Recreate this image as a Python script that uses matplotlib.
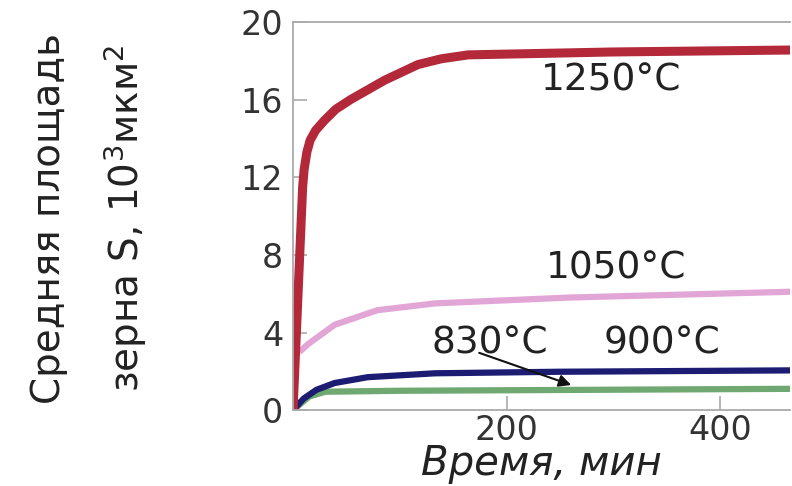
import matplotlib.pyplot as plt

# grain growth curves, time in minutes, area in 10^3 um^2
t_1250 = [0, 9, 10.4, 13, 16, 21, 29, 40, 54, 86, 117, 139, 164, 300, 466]
s_1250 = [0, 11.5, 12.4, 13.3, 13.9, 14.4, 14.9, 15.5, 16.0, 17.0, 17.8, 18.1, 18.3, 18.45, 18.55]
t_1050 = [6, 14, 39, 79, 133, 258, 466]
s_1050 = [3.0, 3.4, 4.4, 5.15, 5.5, 5.8, 6.1]
t_900 = [0, 10, 22, 39, 70, 133, 250, 466]
s_900 = [0, 0.6, 1.05, 1.4, 1.7, 1.9, 1.98, 2.05]
t_830 = [0, 15, 30, 100, 466]
s_830 = [0, 0.7, 0.95, 1.0, 1.1]

y_ticks = [0, 4, 8, 12, 16, 20]
x_ticks = [200, 400]

plt.rcParams['font.family'] = ['DejaVu Sans']

fig = plt.figure(figsize=(7.92, 4.86), dpi=100)
ax = fig.add_axes([0.37, 0.156, 0.628, 0.799])

ax.plot(t_830, s_830, color='#6fa870', linewidth=4.5, solid_capstyle='butt')
ax.plot(t_900, s_900, color='#1c1c72', linewidth=4.5, solid_capstyle='butt')
ax.plot(t_1050, s_1050, color='#e2a6d6', linewidth=4.5, solid_capstyle='butt')
ax.plot(t_1250, s_1250, color='#b3293a', linewidth=6.5, solid_capstyle='butt',
        solid_joinstyle='round')

lab = dict(fontsize=27, ha='center', va='center', color='#222222')
ax.text(298, 17.0, '1250°C', **lab)
ax.text(303, 7.3, '1050°C', **lab)
ax.text(184, 3.45, '830°C', **lab)
ax.text(346, 3.45, '900°C', **lab)
ax.annotate('', xy=(263, 1.25), xytext=(172, 3.0),
            arrowprops=dict(arrowstyle='-|>', color='#111111', lw=1.5,
                            mutation_scale=18))

ax.set_xlim(0, 466)
ax.set_ylim(0, 20)
ax.set_xticks(x_ticks)
ax.set_yticks(y_ticks)
ax.tick_params(direction='in', length=10, width=1.2, color='#aaaaaa',
               labelsize=24, labelcolor='#333333', pad=7)
ax.tick_params(axis='x', pad=3)
for side in ['left', 'top', 'bottom']:
    ax.spines[side].set_color('#aaaaaa')
    ax.spines[side].set_linewidth(1.3)
ax.spines['right'].set_visible(False)

ax.set_xlabel('Время, мин', fontsize=29, style='italic', color='#222222', labelpad=-2)
fig.text(0.062, 0.55, 'Средняя площадь', rotation=90, fontsize=28,
         ha='center', va='center', color='#222222')
fig.text(0.158, 0.55, 'зерна S, 10$^3$мкм$^2$', rotation=90, fontsize=28,
         ha='center', va='center', color='#222222')

fig.savefig('out.png', dpi=100)
